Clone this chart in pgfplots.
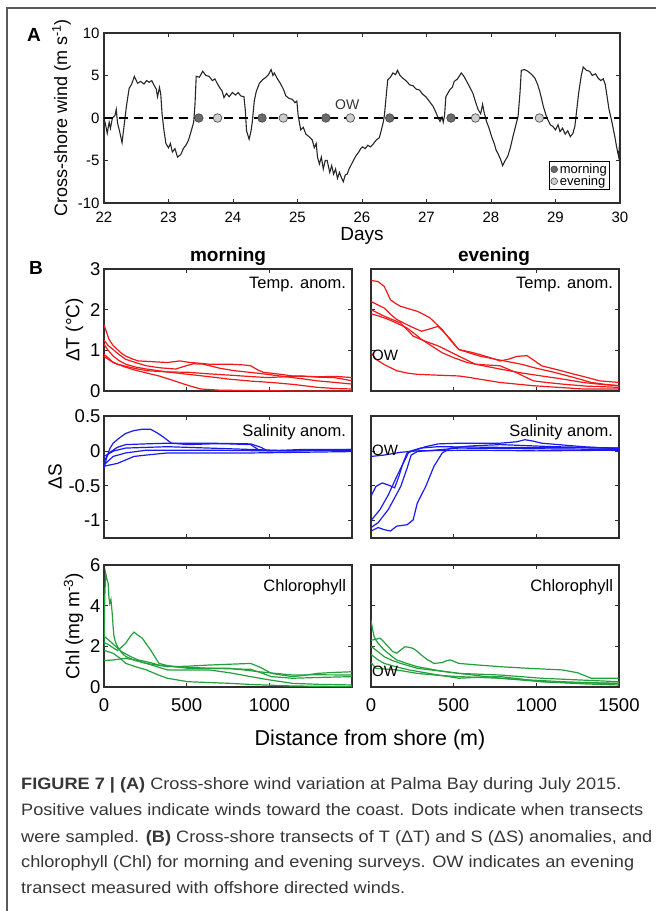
\documentclass[border=0pt]{standalone}
\usepackage{fontspec}
\setmainfont{Liberation Sans}
\usepackage{pgfplots}
\pgfplotsset{compat=1.18}
\definecolor{framegray}{HTML}{5A5A5A}
\definecolor{axgray}{HTML}{2E2E2E}
\definecolor{capgray}{HTML}{363636}
\definecolor{tred}{HTML}{F01818}
\definecolor{sblue}{HTML}{1A1AF0}
\definecolor{cgreen}{HTML}{23A03C}
\definecolor{morn}{HTML}{6A6A6A}
\definecolor{even}{HTML}{CDCDCD}
\newcommand\fs[1]{\fontsize{#1}{#1}\selectfont}
\newcommand\capline[1]{\scalebox{1.1}[1]{#1}}

\pgfplotsset{
  common/.style={
    scale only axis,
    axis line style={axgray, line width=1.1pt},
    tick align=inside,
    major tick length=4pt,
    tick style={axgray, line width=0.7pt},
    /pgf/number format/assume math mode=true,
    clip mode=individual,
  },
  bpanel/.style={
    common,
    width=248pt, height=122pt,
    xmin=0, xmax=1500,
    xtick={0,500,1000,1500}, xticklabels={},
    ticklabel style={font=\fs{18.5}},
    xticklabel style={yshift=-8pt},
    ylabel style={font=\fs{19}},
  },
  tline/.style={tred, line width=1.2pt},
  sline/.style={sblue, line width=1.2pt},
  cline/.style={cgreen, line width=1.2pt},
}

\begin{document}
\begin{tikzpicture}
\path[use as bounding box] (0,0) rectangle (656pt,-911pt);
\draw[framegray, line width=1.4pt] (7pt,-912pt) -- (7pt,-8pt) -- (660pt,-8pt);

% ---------- panel A: wind ----------
\begin{axis}[common,
  at={(104pt,-33pt)}, anchor=north west,
  width=516pt, height=170pt,
  xmin=22, xmax=30, ymin=-10, ymax=10,
  xtick={22,23,...,30},
  ytick={-10,-5,0,5,10}, yticklabels={-10,-5,0,5,10},
  ticklabel style={font=\fs{15}},
  xticklabel style={yshift=-5pt},
  yticklabel style={xshift=-1pt},
  xlabel={Days}, ylabel={Cross-shore wind (m s\textsuperscript{-1})},
  xlabel style={font=\fs{19}, yshift=2pt},
  ylabel style={font=\fs{18}},
  legend style={at={(0.981,0.076)}, anchor=south east, draw=black, line width=0.7pt,
    font=\fs{13}, inner sep=1pt, row sep=-3pt, fill=white},
  legend cell align=left,
]
\addplot[black!85, line width=1.1pt, forget plot] coordinates {
(22.00,0.0) (22.03,-1.0) (22.05,-1.8) (22.08,-0.5) (22.10,-1.2) (22.13,0.0) (22.17,0.3)
(22.19,1.0) (22.21,-0.6) (22.24,-1.5) (22.28,-2.9) (22.31,-1.0) (22.35,1.5) (22.39,3.5)
(22.43,4.0) (22.47,4.9) (22.52,4.1) (22.57,4.3) (22.62,4.0) (22.66,4.4) (22.70,4.2)
(22.74,4.4) (22.78,3.8) (22.81,3.4) (22.83,2.5) (22.86,3.6) (22.88,2.8) (22.90,0.5)
(22.93,-1.5) (22.96,-3.0) (23.00,-3.5) (23.03,-3.0) (23.06,-4.0) (23.10,-3.6) (23.14,-4.6)
(23.19,-4.3) (23.23,-3.6) (23.27,-3.2) (23.31,-2.6) (23.35,-1.6) (23.39,-0.5) (23.41,1.5)
(23.43,4.9) (23.48,4.8) (23.53,5.5) (23.58,5.0) (23.63,4.9) (23.68,4.4) (23.72,4.6)
(23.76,4.0) (23.80,3.5) (23.83,3.2) (23.86,2.4) (23.90,2.9) (23.94,2.5) (23.99,3.0)
(24.04,2.7) (24.08,3.0) (24.12,2.6) (24.17,2.5) (24.19,1.0) (24.21,-1.5) (24.25,-2.5)
(24.28,-1.5) (24.30,-0.4) (24.33,2.0) (24.36,3.1) (24.41,4.1) (24.46,4.5) (24.51,4.8)
(24.55,5.1) (24.59,5.7) (24.62,5.0) (24.64,5.3) (24.69,4.6) (24.74,4.0) (24.78,3.4)
(24.82,2.6) (24.87,2.3) (24.92,2.2) (24.96,1.8) (24.99,2.0) (25.01,0.3) (25.05,-1.4)
(25.09,-1.1) (25.13,-1.9) (25.18,-2.2) (25.23,-2.6) (25.26,-3.5) (25.29,-3.0) (25.31,-4.6)
(25.34,-5.4) (25.37,-4.6) (25.40,-6.0) (25.43,-5.0) (25.46,-5.0) (25.50,-6.4) (25.53,-5.6)
(25.56,-6.6) (25.59,-6.0) (25.62,-7.1) (25.65,-6.4) (25.68,-7.0) (25.71,-7.5) (25.74,-6.7)
(25.77,-6.6) (25.80,-6.0) (25.84,-5.4) (25.88,-4.8) (25.91,-4.4) (25.95,-4.0) (25.98,-3.6)
(26.01,-3.4) (26.05,-3.6) (26.09,-3.2) (26.13,-3.4) (26.17,-3.1) (26.22,-2.6) (26.27,-2.3)
(26.30,-1.4) (26.33,-0.5) (26.35,0.5) (26.38,3.0) (26.40,4.5) (26.44,4.8) (26.48,5.3)
(26.52,5.1) (26.55,5.6) (26.59,5.0) (26.63,4.7) (26.68,4.4) (26.74,3.9) (26.79,3.8)
(26.84,3.4) (26.89,3.3) (26.94,2.8) (26.99,2.5) (27.04,2.0) (27.10,1.4) (27.15,0.6)
(27.18,0.0) (27.21,-0.4) (27.24,0.1) (27.26,-0.5) (27.28,0.3) (27.30,2.5) (27.36,3.3)
(27.40,3.6) (27.43,4.3) (27.48,4.6) (27.54,5.3) (27.58,4.9) (27.61,4.5) (27.66,3.8)
(27.72,2.9) (27.76,1.9) (27.80,1.0) (27.84,0.5) (27.87,1.6) (27.89,0.8) (27.93,-0.4)
(27.97,-1.2) (28.01,-2.2) (28.05,-3.0) (28.08,-3.8) (28.11,-4.2) (28.15,-4.9) (28.18,-5.6)
(28.22,-5.0) (28.26,-4.5) (28.30,-3.5) (28.34,-2.2) (28.38,-1.0) (28.42,0.2) (28.45,3.0)
(28.47,5.6) (28.52,5.7) (28.57,5.5) (28.62,5.2) (28.68,4.7) (28.72,4.0) (28.75,3.3)
(28.78,2.4) (28.81,1.4) (28.85,0.4) (28.88,-0.2) (28.92,-0.8) (28.96,-1.0) (29.00,-1.4)
(29.04,-0.8) (29.07,-1.6) (29.11,-1.2) (29.15,-1.9) (29.19,-1.5) (29.23,-2.2) (29.27,-1.8)
(29.30,-1.0) (29.33,1.0) (29.36,3.0) (29.40,5.0) (29.43,6.0) (29.48,5.6) (29.53,5.5)
(29.57,5.0) (29.62,5.2) (29.66,4.7) (29.70,4.4) (29.74,4.6) (29.77,4.0) (29.80,2.5)
(29.83,1.0) (29.87,-0.3) (29.92,-2.2) (29.95,-3.5) (29.98,-4.6) (30.00,-2.0)
};
\addplot[black, line width=2.2pt, dash pattern=on 9pt off 6pt, forget plot]
  coordinates {(22,0) (30,0)};
\addplot[only marks, mark=*, mark size=4.3pt,
  mark options={fill=morn, draw=black!75, line width=0.6pt},
  legend image code/.code={\draw[fill=morn, draw=black!75, line width=0.5pt] (0pt,0pt) circle (3.4pt);}]
  coordinates {(23.47,0) (24.45,0) (25.44,0) (26.43,0) (27.38,0)};
\addlegendentry{morning}
\addplot[only marks, mark=*, mark size=4.3pt,
  mark options={fill=even, draw=black!75, line width=0.6pt},
  legend image code/.code={\draw[fill=even, draw=black!75, line width=0.5pt] (0pt,0pt) circle (3.4pt);}]
  coordinates {(23.76,0) (24.78,0) (25.82,0) (27.76,0) (28.75,0)};
\addlegendentry{evening}
\node[font=\fs{14}, text=black!80] at (axis cs:25.77,1.6) {OW};
\end{axis}

% ---------- panel B, row 1: temperature ----------
\begin{axis}[bpanel, at={(104pt,-269pt)}, anchor=north west,
  ymin=0, ymax=3, ytick={0,1,2,3}, yticklabels={0,1,2,3},
  ylabel={ΔT (°C)}]
\addplot[tline] coordinates {(0,1.63) (15,1.45) (30,1.27) (55,1.12) (81,1.02) (105,0.93) (131,0.86) (170,0.79) (207,0.74) (300,0.72) (383,0.70) (459,0.74) (520,0.70) (560,0.69) (635,0.66) (761,0.66) (850,0.64) (887,0.62) (930,0.52) (963,0.46) (1050,0.42) (1140,0.37) (1300,0.35) (1400,0.36) (1500,0.33)};
\addplot[tline] coordinates {(0,1.25) (25,1.12) (55,1.02) (90,0.9) (131,0.78) (190,0.70) (257,0.62) (340,0.57) (434,0.54) (480,0.6) (540,0.67) (600,0.66) (640,0.62) (700,0.56) (787,0.50) (880,0.46) (988,0.41) (1100,0.35) (1200,0.30) (1290,0.25) (1400,0.21) (1500,0.17)};
\addplot[tline] coordinates {(0,1.15) (25,1.0) (55,0.86) (90,0.75) (131,0.66) (190,0.59) (257,0.54) (380,0.47) (509,0.41) (640,0.35) (761,0.29) (900,0.24) (1013,0.21) (1150,0.16) (1290,0.09) (1400,0.06) (1500,0.05)};
\addplot[tline] coordinates {(0,0.90) (30,0.8) (55,0.70) (120,0.6) (181,0.52) (260,0.44) (333,0.37) (410,0.27) (484,0.17) (540,0.1) (585,0.05) (700,0.02) (900,0.01) (1200,0.0) (1500,0.0)};
\addplot[tline] coordinates {(0,0.85) (40,0.74) (81,0.66) (170,0.57) (257,0.50) (380,0.47) (509,0.46) (640,0.42) (761,0.39) (870,0.36) (988,0.33) (1090,0.35) (1190,0.37) (1300,0.34) (1391,0.33) (1450,0.29) (1500,0.25)};
\node[anchor=east, font=\fs{16.5}] at (rel axis cs:0.99,0.87) {Temp. anom.};
\end{axis}

\begin{axis}[bpanel, at={(371pt,-269pt)}, anchor=north west,
  ymin=0, ymax=3, ytick={0,1,2,3}, yticklabels={}]
\addplot[tline] coordinates {(0,0.95) (30,0.78) (80,0.65) (155,0.50) (220,0.44) (280,0.41) (400,0.39) (531,0.37) (600,0.33) (656,0.29) (720,0.25) (781,0.21) (880,0.17) (982,0.13) (1130,0.09) (1282,0.05) (1500,0.05)};
\addplot[tline] coordinates {(0,2.72) (43,2.69) (80,2.57) (100,2.4) (118,2.24) (150,2.15) (180,2.08) (230,2.02) (280,1.96) (320,1.88) (356,1.80) (395,1.65) (431,1.51) (480,1.25) (531,1.02) (600,0.96) (656,0.90) (720,0.82) (781,0.74) (830,0.78) (881,0.85) (944,0.87) (990,0.74) (1032,0.62) (1130,0.52) (1232,0.41) (1310,0.33) (1382,0.25) (1500,0.21)};
\addplot[tline] coordinates {(0,2.2) (40,2.12) (80,2.04) (120,1.88) (155,1.76) (218,1.63) (260,1.55) (305,1.47) (350,1.52) (406,1.59) (440,1.45) (481,1.27) (531,1.02) (600,0.93) (656,0.86) (780,0.76) (907,0.66) (1000,0.56) (1107,0.46) (1220,0.34) (1332,0.21) (1420,0.16) (1500,0.13)};
\addplot[tline] coordinates {(0,2.0) (40,1.92) (80,1.84) (180,1.67) (220,1.5) (255,1.35) (330,1.22) (406,1.11) (520,0.88) (631,0.66) (700,0.64) (781,0.62) (880,0.45) (982,0.25) (1060,0.21) (1157,0.17) (1300,0.12) (1500,0.09)};
\addplot[tline] coordinates {(0,1.9) (50,1.84) (105,1.76) (160,1.66) (218,1.55) (260,1.42) (305,1.27) (370,1.1) (431,0.94) (500,0.82) (581,0.70) (680,0.62) (781,0.54) (900,0.45) (1032,0.37) (1150,0.3) (1282,0.21) (1400,0.16) (1500,0.13)};
\node[anchor=east, font=\fs{16.5}] at (rel axis cs:0.99,0.87) {Temp. anom.};
\node[anchor=west, font=\fs{15}, inner sep=1pt] at (axis cs:0,0.88) {OW};
\end{axis}

% ---------- panel B, row 2: salinity ----------
\begin{axis}[bpanel, at={(104pt,-416pt)}, anchor=north west,
  ymin=-1.25, ymax=0.5, ytick={-1,-0.5,0,0.5}, yticklabels={-1,-0.5,0,0.5},
  ylabel={ΔS}]
\addplot[sline] coordinates {(0,-0.25) (18,-0.08) (35,0.03) (55,0.11) (90,0.18) (131,0.25) (180,0.29) (232,0.31) (282,0.31) (320,0.26) (358,0.20) (408,0.11) (509,0.09) (640,0.10) (761,0.10) (887,0.09) (938,0.01) (1100,0.0) (1300,0.01) (1500,0.0)};
\addplot[sline] coordinates {(0,-0.15) (30,-0.03) (80,0.05) (131,0.09) (250,0.10) (383,0.11) (635,0.11) (887,0.10) (950,0.05) (988,0.0) (1200,0.02) (1500,0.02)};
\addplot[sline] coordinates {(0,-0.2) (55,-0.08) (131,-0.03) (257,0.01) (635,0.01) (1000,0.0) (1500,0.01)};
\addplot[sline] coordinates {(0,-0.22) (81,-0.18) (181,-0.08) (257,-0.06) (383,-0.03) (887,-0.03) (1200,-0.02) (1500,-0.01)};
\addplot[sline] coordinates {(0,-0.08) (60,0.0) (131,0.04) (383,0.06) (635,0.04) (1140,0.0) (1500,0.02)};
\node[anchor=east, font=\fs{16.5}] at (rel axis cs:0.99,0.87) {Salinity anom.};
\end{axis}

\begin{axis}[bpanel, at={(371pt,-416pt)}, anchor=north west,
  ymin=-1.25, ymax=0.5, ytick={-1,-0.5,0,0.5}, yticklabels={}]
\addplot[sline] coordinates {(0,-0.08) (80,-0.06) (180,-0.02) (280,0.0) (600,0.01) (1000,0.0) (1500,0.01)};
\addplot[sline] coordinates {(0,-0.65) (30,-0.51) (68,-0.46) (105,-0.49) (143,-0.53) (168,-0.37) (193,-0.18) (218,-0.03) (255,0.0) (330,0.06) (406,0.10) (531,0.11) (781,0.11) (880,0.13) (931,0.16) (980,0.14) (1032,0.11) (1282,0.06) (1500,0.03)};
\addplot[sline] coordinates {(0,-1.0) (55,-0.84) (105,-0.63) (155,-0.37) (205,-0.13) (230,-0.01) (300,0.04) (406,0.06) (781,0.05) (1500,0.04)};
\addplot[sline] coordinates {(0,-1.1) (43,-1.03) (105,-0.84) (180,-0.51) (218,-0.25) (243,-0.06) (280,-0.01) (531,0.04) (1000,0.03) (1500,0.02)};
\addplot[sline] coordinates {(0,-1.15) (43,-1.1) (80,-1.13) (118,-1.15) (155,-1.08) (218,-1.06) (255,-0.99) (280,-0.75) (331,-0.51) (381,-0.22) (431,-0.03) (481,0.04) (600,0.07) (781,0.09) (1100,0.06) (1500,0.04)};
\node[anchor=east, font=\fs{16.5}] at (rel axis cs:0.99,0.87) {Salinity anom.};
\node[anchor=west, font=\fs{15}, inner sep=1pt] at (axis cs:0,0.01) {OW};
\end{axis}

% ---------- panel B, row 3: chlorophyll ----------
\begin{axis}[bpanel, at={(104pt,-565pt)}, anchor=north west,
  ymin=0, ymax=6, ytick={0,2,4,6}, yticklabels={0,2,4,6},
  xticklabels={0,500,1000,{}},
  ylabel={Chl (mg m\textsuperscript{-3})}]
\addplot[cline] coordinates {(0,1.98) (5,4.5) (10,5.6) (18,5.3) (25,5.1) (30,4.4) (35,4.1) (42,4.3) (50,3.6) (55,3.0) (60,2.5) (70,2.2) (81,2.0) (105,1.7) (131,1.5) (190,1.3) (257,1.16) (320,1.08) (383,1.0) (500,1.02) (635,1.08) (760,1.12) (887,1.16) (950,0.95) (1013,0.67) (1080,0.58) (1140,0.51) (1220,0.58) (1290,0.67) (1400,0.72) (1500,0.75)};
\addplot[cline] coordinates {(0,2.2) (30,2.07) (60,1.9) (81,1.8) (105,1.95) (131,2.15) (160,2.5) (181,2.7) (205,2.55) (232,2.4) (257,2.1) (282,1.82) (310,1.45) (333,1.16) (380,1.06) (434,1.0) (635,0.92) (887,0.87) (950,0.7) (1013,0.51) (1140,0.43) (1300,0.47) (1500,0.51)};
\addplot[cline] coordinates {(0,1.3) (55,1.33) (131,1.41) (200,1.3) (257,1.16) (320,1.0) (383,0.84) (635,0.84) (760,0.7) (887,0.51) (1000,0.35) (1140,0.18) (1300,0.13) (1500,0.1)};
\addplot[cline] coordinates {(0,1.8) (55,1.66) (100,1.4) (131,1.16) (190,1.0) (257,0.84) (320,0.62) (383,0.43) (509,0.26) (761,0.18) (900,0.12) (1140,0.05) (1500,0.02)};
\addplot[cline] coordinates {(0,2.5) (30,2.3) (70,2.0) (106,1.74) (160,1.5) (207,1.33) (280,1.2) (333,1.08) (509,0.92) (761,0.92) (937,0.75) (1140,0.59) (1300,0.6) (1500,0.59)};
\node[anchor=east, font=\fs{16.5}] at (rel axis cs:0.99,0.82) {Chlorophyll};
\end{axis}

\begin{axis}[bpanel, at={(371pt,-565pt)}, anchor=north west,
  ymin=0, ymax=6, ytick={0,2,4,6}, yticklabels={},
  xticklabels={0,500,1000,1500}]
\addplot[cline] coordinates {(0,1.2) (30,0.92) (155,0.84) (280,0.67) (400,0.58) (531,0.51) (781,0.43) (950,0.35) (1157,0.26) (1300,0.22) (1500,0.18)};
\addplot[cline] coordinates {(0,3.3) (8,2.9) (18,2.5) (30,2.3) (43,2.15) (80,1.82) (120,1.55) (155,1.33) (220,1.15) (280,1.0) (400,0.82) (531,0.67) (781,0.59) (1032,0.43) (1250,0.35) (1500,0.26)};
\addplot[cline] coordinates {(0,2.3) (30,2.35) (55,2.4) (80,2.2) (105,1.98) (130,1.75) (155,1.66) (180,1.82) (205,1.98) (230,1.95) (255,1.9) (280,1.75) (305,1.57) (340,1.35) (381,1.16) (430,1.2) (460,1.3) (481,1.33) (531,1.16) (650,1.08) (781,1.0) (950,0.92) (1157,0.84) (1250,0.7) (1332,0.43) (1500,0.43)};
\addplot[cline] coordinates {(0,2.0) (40,1.75) (80,1.49) (130,1.3) (180,1.16) (280,0.92) (531,0.67) (781,0.43) (1032,0.26) (1250,0.2) (1500,0.18)};
\addplot[cline] coordinates {(0,1.6) (40,1.35) (80,1.16) (150,1.0) (230,0.84) (406,0.59) (531,0.43) (650,0.48) (781,0.51) (900,0.4) (1032,0.26) (1300,0.15) (1500,0.1)};
\node[anchor=east, font=\fs{16.5}] at (rel axis cs:0.99,0.82) {Chlorophyll};
\node[anchor=west, font=\fs{15}, inner sep=1pt] at (axis cs:0,0.75) {OW};
\end{axis}

% ---------- labels ----------
\node[font=\bfseries\fs{19}] at (34pt,-35pt) {A};
\node[font=\bfseries\fs{19}] at (36pt,-268pt) {B};
\node[font=\bfseries\fs{19}] at (228pt,-257pt) {morning};
\node[font=\bfseries\fs{19}] at (494pt,-257pt) {evening};
\node[font=\fs{21.5}] at (370pt,-740pt) {Distance from shore (m)};

% ---------- caption ----------
\begin{scope}[every node/.style={anchor=base west, inner sep=0pt, text=capgray, font=\fs{16.5}}]
\node at (21pt,-789pt) {\capline{\textbf{FIGURE 7 | (A)} Cross-shore wind variation at Palma Bay during July 2015.}};
\node at (21pt,-815pt) {\capline{Positive values indicate winds toward the coast. Dots indicate when transects}};
\node at (21pt,-842pt) {\capline{were sampled. \textbf{(B)} Cross-shore transects of T (ΔT) and S (ΔS) anomalies, and}};
\node at (21pt,-867pt) {\capline{chlorophyll (Chl) for morning and evening surveys. OW indicates an evening}};
\node at (21pt,-893pt) {\capline{transect measured with offshore directed winds.}};
\end{scope}
\end{tikzpicture}
\end{document}
